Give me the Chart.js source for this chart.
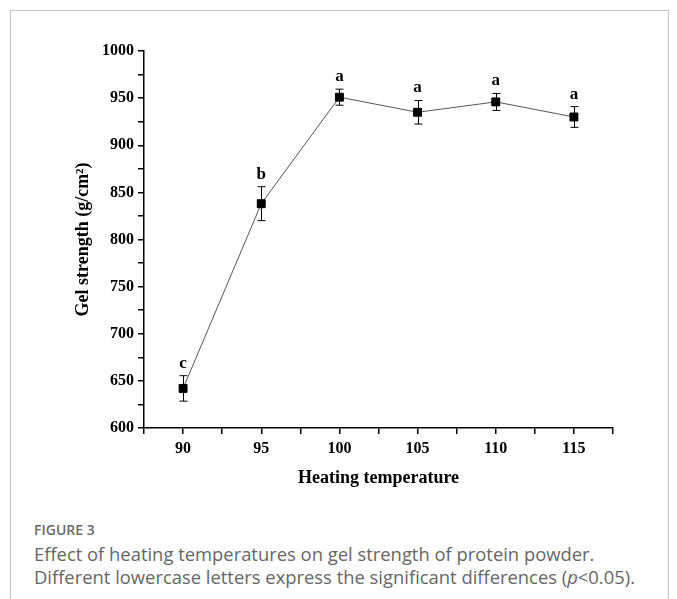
<!DOCTYPE html>
<html>
<head>
<meta charset="utf-8">
<script src="https://cdn.jsdelivr.net/npm/chart.js@4"></script>
<style>
  body { margin: 0; background: #fff; width: 677px; height: 599px; overflow: hidden; position: relative; }
  #frame { position: absolute; left: 10px; top: 10px; width: 657px; height: 620px; border: 1px solid #c4c4c4; }
  #chart { position: absolute; left: 0; top: 0; }
  #fig { position: absolute; left: 34px; top: 520px; font: 600 14px "Open Sans", sans-serif; color: #6a6a6a; }
  #cap { position: absolute; left: 34px; top: 542px; font: 18.4px/23px "Open Sans", sans-serif; color: #666; }
</style>
</head>
<body>
<div id="frame"></div>
<canvas id="chart" width="677" height="500"></canvas>
<div id="fig">FIGURE 3</div>
<div id="cap">Effect of heating temperatures on gel strength of protein powder.<br>Different lowercase letters express the significant differences (<i>p</i>&lt;0.05).</div>
<script>
const temps = [90, 95, 100, 105, 110, 115];
const gel = [642, 838, 951, 935, 946, 930];
const sd = [13.5, 18, 8.5, 12.5, 9, 11];
const letters = ['c', 'b', 'a', 'a', 'a', 'a'];
const xTicks = [87.5, 90, 92.5, 95, 97.5, 100, 102.5, 105, 107.5, 110, 112.5, 115, 117.5];
const yTicks = [600, 625, 650, 675, 700, 725, 750, 775, 800, 825, 850, 875, 900, 925, 950, 975, 1000];

const serif = "'Liberation Serif', 'Times New Roman', serif";

// error bars under the markers, significance letters above them
const errorBars = {
    id: 'errorBars',
    beforeDatasetsDraw(chart) {
        const ctx = chart.ctx;
        const xs = chart.scales.x, ys = chart.scales.y;
        ctx.save();
        ctx.strokeStyle = '#000';
        ctx.lineWidth = 1;
        temps.forEach((t, i) => {
            const x = Math.round(xs.getPixelForValue(t)) + 0.5;
            const top = ys.getPixelForValue(gel[i] + sd[i]);
            const bot = ys.getPixelForValue(gel[i] - sd[i]);
            ctx.beginPath();
            ctx.moveTo(x, top); ctx.lineTo(x, bot);
            ctx.moveTo(x - 4, top); ctx.lineTo(x + 4, top);
            ctx.moveTo(x - 4, bot); ctx.lineTo(x + 4, bot);
            ctx.stroke();
        });
        ctx.restore();
    },
    afterDatasetsDraw(chart) {
        const ctx = chart.ctx;
        const xs = chart.scales.x, ys = chart.scales.y;
        ctx.save();
        ctx.fillStyle = '#000';
        ctx.font = "bold 17px " + serif;
        ctx.textAlign = 'center';
        ctx.textBaseline = 'alphabetic';
        temps.forEach((t, i) => {
            const x = xs.getPixelForValue(t);
            const top = ys.getPixelForValue(gel[i] + sd[i]);
            ctx.fillText(letters[i], x, top - 8);
        });
        ctx.restore();
    }
};

new Chart(document.getElementById('chart'), {
    type: 'scatter',
    data: {
        datasets: [{
            data: temps.map((t, i) => ({ x: t, y: gel[i] })),
            showLine: true,
            borderColor: '#555',
            borderWidth: 1,
            pointStyle: 'rect',
            pointRadius: 5.6,
            pointBackgroundColor: '#000',
            pointBorderColor: '#000',
            pointBorderWidth: 1
        }]
    },
    options: {
        responsive: false,
        animation: false,
        layout: { padding: { top: 51, right: 64, left: 0, bottom: 0 } },
        plugins: { legend: { display: false }, tooltip: { enabled: false } },
        scales: {
            x: {
                type: 'linear',
                min: 87.5,
                max: 117.5,
                afterBuildTicks: s => { s.ticks = xTicks.map(v => ({ value: v })); },
                afterFit: s => { s.height = 72; },
                ticks: {
                    autoSkip: false,
                    maxRotation: 0,
                    padding: 5,
                    color: '#000',
                    font: { family: serif, size: 16, weight: 'bold' },
                    callback: v => (v % 5 === 0 ? v : '')
                },
                grid: { drawOnChartArea: false, drawTicks: true, tickLength: 6, color: '#000', lineWidth: 1.5 },
                border: { display: true, color: '#000', width: 1.5 },
                title: {
                    display: true,
                    text: 'Heating temperature',
                    color: '#000',
                    font: { family: serif, size: 18, weight: 'bold' },
                    padding: { top: 0, bottom: 11 }
                }
            },
            y: {
                min: 600,
                max: 1000,
                afterBuildTicks: s => { s.ticks = yTicks.map(v => ({ value: v })); },
                afterFit: s => { s.width = 144; },
                ticks: {
                    autoSkip: false,
                    padding: 4,
                    color: '#000',
                    font: { family: serif, size: 16, weight: 'bold' },
                    callback: v => (v % 50 === 0 ? v : '')
                },
                grid: { drawOnChartArea: false, drawTicks: true, tickLength: 6, color: '#000', lineWidth: 1.5 },
                border: { display: true, color: '#000', width: 1.5 },
                title: {
                    display: true,
                    text: 'Gel strength (g/cm²)',
                    color: '#000',
                    font: { family: serif, size: 18, weight: 'bold' },
                    padding: { top: 73, bottom: 0 }
                }
            }
        }
    },
    plugins: [errorBars]
});
</script>
</body>
</html>
